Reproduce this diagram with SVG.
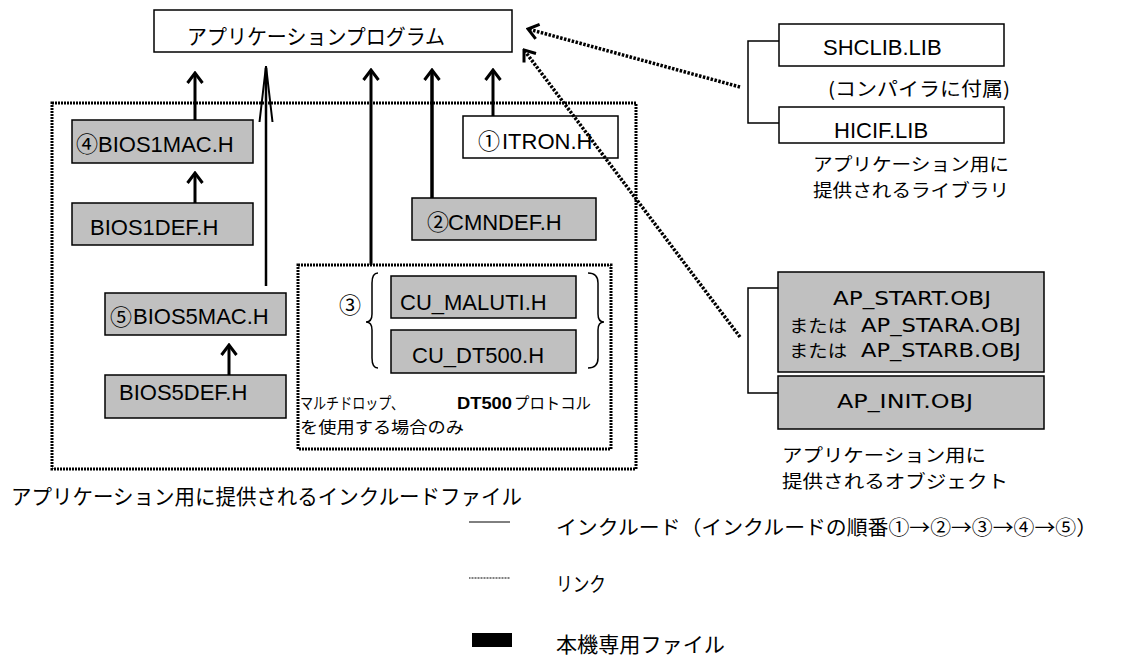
<svg xmlns="http://www.w3.org/2000/svg" width="1122" height="660" viewBox="0 0 1122 660">
<style>
.box{fill:#fff;stroke:#000;stroke-width:1.5}
.gbox{fill:#c0c0c0;stroke:#000;stroke-width:1.5}
.fn{font-family:"Liberation Sans",Arial,sans-serif;font-size:22px;fill:#000}
.ob{font-family:"DejaVu Sans","Liberation Sans",sans-serif;font-size:20px;fill:#000}
.jp{font-family:"Noto Sans CJK JP",sans-serif;font-size:20px;fill:#000}
.cap{font-family:"Noto Sans CJK JP",sans-serif;font-size:18px;fill:#000}
.cd{font-family:"Noto Sans CJK JP",sans-serif;font-size:20px;fill:#000}
.arr{stroke:#000;stroke-width:3;fill:none}
.dotbox{fill:none;stroke:#000;stroke-width:3;stroke-dasharray:2 1}
.dotl{fill:none;stroke:#000;stroke-width:3.5;stroke-dasharray:2.5 1.5}
.thin{fill:none;stroke:#000;stroke-width:1.5}
</style>
<defs>
<marker id="ah" viewBox="0 0 14 18" refX="12" refY="9" markerWidth="14" markerHeight="18" orient="auto" markerUnits="userSpaceOnUse">
<path d="M2,1.5 L12,9 L2,16.5" fill="none" stroke="#000" stroke-width="3"/>
</marker>
</defs>

<g id="include-frame">
<rect class="dotbox" x="52" y="103" width="584" height="366"/>
<text class="jp" x="11" y="504" textLength="511" lengthAdjust="spacingAndGlyphs" style="font-size:21px">アプリケーション用に提供されるインクルードファイル</text>
</g>

<g id="app">
<rect class="box" x="154" y="10" width="358" height="42"/>
<text class="jp" x="187" y="44" textLength="258" lengthAdjust="spacingAndGlyphs" style="font-size:21px">アプリケーションプログラム</text>
</g>

<g id="bios1mac">
<rect class="gbox" x="72" y="120" width="181" height="43"/>
<text class="cd" x="76" y="152" style="font-size:22px">④</text>
<text class="fn" x="98" y="152">BIOS1MAC.H</text>
</g>
<g id="bios1def">
<rect class="gbox" x="72" y="203" width="181" height="42"/>
<text class="fn" x="90" y="235">BIOS1DEF.H</text>
</g>
<g id="bios5mac">
<rect class="gbox" x="105" y="293" width="181" height="42"/>
<text class="cd" x="110" y="325" style="font-size:22px">⑤</text>
<text class="fn" x="133" y="324">BIOS5MAC.H</text>
</g>
<g id="bios5def">
<rect class="gbox" x="105" y="375" width="181" height="43"/>
<text class="fn" x="119" y="400">BIOS5DEF.H</text>
</g>
<g id="itron">
<rect class="box" x="463" y="116" width="155" height="42"/>
<text class="cd" x="478" y="149" style="font-size:22px">①</text>
<text class="fn" x="502" y="149">ITRON.H</text>
</g>
<g id="cmndef">
<rect class="gbox" x="412" y="198" width="184" height="42"/>
<text class="cd" x="427" y="230" style="font-size:22px">②</text>
<text class="fn" x="448" y="230">CMNDEF.H</text>
</g>

<g id="group3">
<rect class="dotbox" x="298" y="265" width="313" height="184"/>
<text class="cd" x="339" y="313" style="font-size:22px">③</text>
<path class="thin" d="M378,273 Q372,273 372,283 L372,314 Q372,322 366,322 Q372,322 372,330 L372,358 Q372,368 378,368"/>
<path class="thin" d="M588,273 Q598,273 598,283 L598,314 Q598,322 604,322 Q598,322 598,330 L598,358 Q598,368 588,368"/>
<text class="jp" x="300" y="409" textLength="104" lengthAdjust="spacingAndGlyphs" style="font-size:16px">マルチドロップ、</text>
<text x="457" y="409" style="font-family:'Liberation Sans',Arial,sans-serif;font-size:17px;font-weight:bold" textLength="55" lengthAdjust="spacingAndGlyphs">DT500</text>
<text class="jp" x="514" y="409" textLength="77" lengthAdjust="spacingAndGlyphs" style="font-size:16px">プロトコル</text>
<text class="jp" x="300" y="433" textLength="164" lengthAdjust="spacingAndGlyphs" style="font-size:16px">を使用する場合のみ</text>
</g>
<g id="cu_maluti">
<rect class="gbox" x="391" y="276" width="185" height="42"/>
<text class="fn" x="400" y="310">CU_MALUTI.H</text>
</g>
<g id="cu_dt500">
<rect class="gbox" x="391" y="330" width="185" height="43"/>
<text class="fn" x="412" y="363">CU_DT500.H</text>
</g>

<g id="libs">
<path class="thin" d="M779,41 H748 V123 H779"/>
<rect class="box" x="779" y="24" width="225" height="42"/>
<text class="fn" x="823" y="55">SHCLIB.LIB</text>
<text class="jp" x="828" y="96" textLength="182" lengthAdjust="spacingAndGlyphs" style="font-size:19px">(コンパイラに付属)</text>
<rect class="box" x="779" y="107" width="225" height="36"/>
<text class="fn" x="834" y="138">HICIF.LIB</text>
<text class="cap" x="813" y="171" textLength="196" lengthAdjust="spacingAndGlyphs">アプリケーション用に</text>
<text class="cap" x="813" y="197" textLength="196" lengthAdjust="spacingAndGlyphs">提供されるライブラリ</text>
</g>

<g id="objs">
<path class="thin" d="M778,288 H748 V393 H778"/>
<rect class="gbox" x="778" y="272" width="266" height="100"/>
<text class="ob" x="912" y="305" text-anchor="middle" textLength="158" lengthAdjust="spacingAndGlyphs">AP_START.OBJ</text>
<text class="jp" x="789" y="332" textLength="58" lengthAdjust="spacingAndGlyphs" style="font-size:17px">または</text>
<text class="ob" x="861" y="332" textLength="160" lengthAdjust="spacingAndGlyphs">AP_STARA.OBJ</text>
<text class="jp" x="789" y="357" textLength="58" lengthAdjust="spacingAndGlyphs" style="font-size:17px">または</text>
<text class="ob" x="861" y="357" textLength="160" lengthAdjust="spacingAndGlyphs">AP_STARB.OBJ</text>
<rect class="gbox" x="778" y="376" width="266" height="53"/>
<text class="ob" x="905" y="408" text-anchor="middle" textLength="136" lengthAdjust="spacingAndGlyphs">AP_INIT.OBJ</text>
<text class="cap" x="782" y="462" textLength="204" lengthAdjust="spacingAndGlyphs">アプリケーション用に</text>
<text class="cap" x="782" y="488" textLength="226" lengthAdjust="spacingAndGlyphs">提供されるオブジェクト</text>
</g>

<g id="connectors">
<line class="arr" x1="195" y1="120" x2="195" y2="73" marker-end="url(#ah)"/>
<line class="arr" x1="195" y1="203" x2="195" y2="173" marker-end="url(#ah)"/>
<line class="arr" x1="229" y1="375" x2="229" y2="345" marker-end="url(#ah)"/>
<line class="arr" x1="371" y1="265" x2="371" y2="70" marker-end="url(#ah)"/>
<line class="arr" x1="432" y1="198" x2="432" y2="70" marker-end="url(#ah)" style="stroke-width:3.5"/>
<line class="arr" x1="493" y1="116" x2="493" y2="70" marker-end="url(#ah)"/>
<line x1="266" y1="286" x2="266" y2="68" stroke="#000" stroke-width="2.5"/>
<path d="M259.5,122 L266,66 L272.5,122" fill="none" stroke="#000" stroke-width="2"/>
<line class="dotl" x1="740" y1="87" x2="528" y2="29" marker-end="url(#ah)"/>
<line class="dotl" x1="740" y1="337" x2="524" y2="50" marker-end="url(#ah)"/>
</g>

<g id="legend">
<line x1="469" y1="522" x2="510" y2="522" stroke="#000" stroke-width="1"/>
<text class="jp" x="556" y="535" textLength="541" lengthAdjust="spacingAndGlyphs">インクルード（インクルードの順番①→②→③→④→⑤）</text>
<line x1="469" y1="578" x2="510" y2="578" stroke="#000" stroke-width="1.2" stroke-dasharray="1 0.5"/>
<text class="jp" x="556" y="592" textLength="50" lengthAdjust="spacingAndGlyphs">リンク</text>
<rect x="472" y="633" width="40" height="14" fill="#000"/>
<text class="jp" x="556" y="652" textLength="169" lengthAdjust="spacingAndGlyphs" style="font-size:21px">本機専用ファイル</text>
</g>
</svg>
